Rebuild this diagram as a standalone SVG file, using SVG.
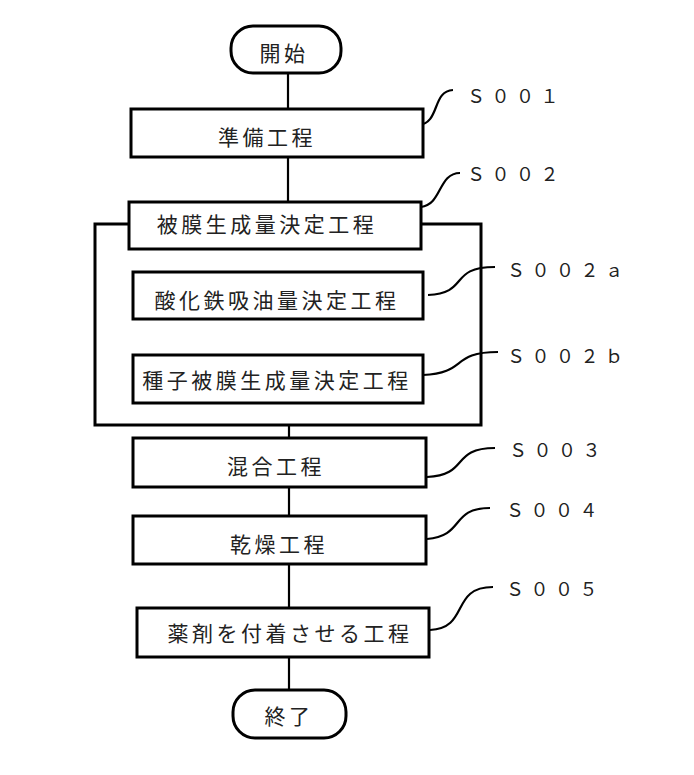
<svg xmlns="http://www.w3.org/2000/svg" width="694" height="775" viewBox="0 0 694 775">
<style>
.box{fill:#fff;stroke:#000;stroke-width:3}
.frame{fill:none;stroke:#000;stroke-width:3}
.ln{fill:none;stroke:#000;stroke-width:2.2}
.t{font-family:"Noto Sans CJK JP","Noto Sans CJK SC",sans-serif;font-size:21px;letter-spacing:3.5px;text-anchor:middle;dominant-baseline:central;fill:#222}
.lb{font-family:"Noto Sans CJK JP","Noto Sans CJK SC",sans-serif;font-size:18px;letter-spacing:6.5px;fill:#222}
</style>
<rect x="0" y="0" width="694" height="775" fill="#fff"/>
<g id="connectors">
<line class="ln" x1="288" y1="73" x2="288" y2="109"/>
<line class="ln" x1="288" y1="157" x2="288" y2="202"/>
<line class="ln" x1="289" y1="425" x2="289" y2="438"/>
<line class="ln" x1="289" y1="487" x2="289" y2="516"/>
<line class="ln" x1="289" y1="564" x2="289" y2="608"/>
<line class="ln" x1="289" y1="657" x2="289" y2="690"/>
<path class="ln" d="M419,125 C440,123 432,91 453,90"/>
<path class="ln" d="M421,207 C442,205 438,173 460,173"/>
<path class="ln" d="M428,295 C470,293 448,267 495,267"/>
<path class="ln" d="M423,375 C468,373 450,352 498,352"/>
<path class="ln" d="M427,477 C470,475 450,448 495,448"/>
<path class="ln" d="M427,539 C465,536 450,508 490,508"/>
<path class="ln" d="M430,630 C470,628 450,587 493,587"/>
</g>
<g id="start">
<rect class="box" x="231" y="26" width="110" height="47" rx="22" ry="22"/>
<text class="t" x="284" y="52">開始</text>
</g>
<g id="s001">
<rect class="box" x="131" y="109" width="292" height="48"/>
<text class="t" x="267" y="136">準備工程</text>
<text class="lb" x="467" y="103">Ｓ００１</text>
</g>
<g id="s002-frame">
<rect class="frame" x="95" y="224" width="386" height="201"/>
</g>
<g id="s002">
<rect class="box" x="129" y="202" width="292" height="47"/>
<text class="t" x="267" y="223">被膜生成量決定工程</text>
<text class="lb" x="467" y="181">Ｓ００２</text>
</g>
<g id="s002a">
<rect class="box" x="133" y="272" width="290" height="47"/>
<text class="t" x="277" y="299">酸化鉄吸油量決定工程</text>
<text class="lb" x="507" y="277">Ｓ００２ａ</text>
</g>
<g id="s002b">
<rect class="box" x="133" y="355" width="290" height="48"/>
<text class="t" x="277" y="379">種子被膜生成量決定工程</text>
<text class="lb" x="507" y="363">Ｓ００２ｂ</text>
</g>
<g id="s003">
<rect class="box" x="133" y="438" width="293" height="49"/>
<text class="t" x="276" y="465">混合工程</text>
<text class="lb" x="509" y="457">Ｓ００３</text>
</g>
<g id="s004">
<rect class="box" x="133" y="516" width="293" height="48"/>
<text class="t" x="279" y="543">乾燥工程</text>
<text class="lb" x="506" y="517">Ｓ００４</text>
</g>
<g id="s005">
<rect class="box" x="137" y="608" width="292" height="49"/>
<text class="t" x="290" y="632">薬剤を付着させる工程</text>
<text class="lb" x="506" y="596">Ｓ００５</text>
</g>
<g id="end">
<rect class="box" x="233" y="690" width="113" height="48" rx="22" ry="22"/>
<text class="t" x="289" y="715">終了</text>
</g>
</svg>
